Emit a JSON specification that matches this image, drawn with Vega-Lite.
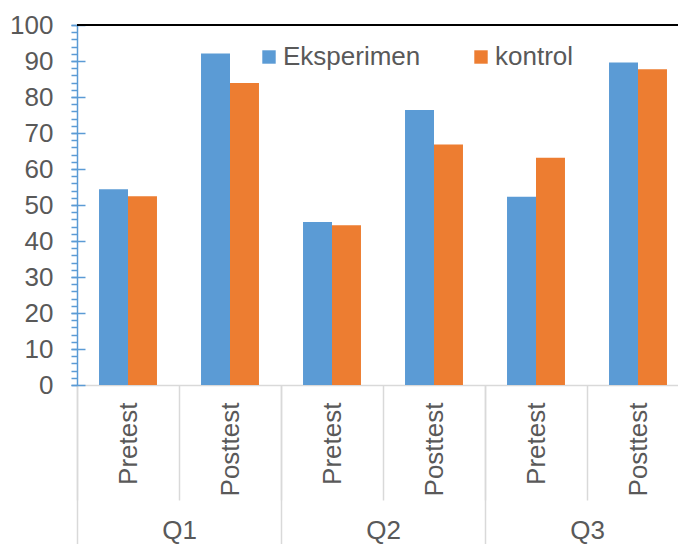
{
  "$schema": "https://vega.github.io/schema/vega-lite/v6.json",
  "autosize": "none",
  "padding": {"left": 77, "top": 25, "right": 0, "bottom": 159},
  "width": 601,
  "height": 360,
  "background": "white",
  "config": {
    "view": {"stroke": null},
    "font": "Liberation Sans"
  },
  "data": {
    "values": [
      {"key": "Q1|Pretest", "q": "Q1", "test": "Pretest", "group": "Eksperimen", "value": 54.4},
      {"key": "Q1|Pretest", "q": "Q1", "test": "Pretest", "group": "kontrol", "value": 52.4},
      {"key": "Q1|Posttest", "q": "Q1", "test": "Posttest", "group": "Eksperimen", "value": 92.1},
      {"key": "Q1|Posttest", "q": "Q1", "test": "Posttest", "group": "kontrol", "value": 83.9},
      {"key": "Q2|Pretest", "q": "Q2", "test": "Pretest", "group": "Eksperimen", "value": 45.3},
      {"key": "Q2|Pretest", "q": "Q2", "test": "Pretest", "group": "kontrol", "value": 44.4},
      {"key": "Q2|Posttest", "q": "Q2", "test": "Posttest", "group": "Eksperimen", "value": 76.4},
      {"key": "Q2|Posttest", "q": "Q2", "test": "Posttest", "group": "kontrol", "value": 66.8},
      {"key": "Q3|Pretest", "q": "Q3", "test": "Pretest", "group": "Eksperimen", "value": 52.3},
      {"key": "Q3|Pretest", "q": "Q3", "test": "Pretest", "group": "kontrol", "value": 63.1},
      {"key": "Q3|Posttest", "q": "Q3", "test": "Posttest", "group": "Eksperimen", "value": 89.6},
      {"key": "Q3|Posttest", "q": "Q3", "test": "Posttest", "group": "kontrol", "value": 87.7}
    ]
  },
  "resolve": {"scale": {"x": "independent"}, "axis": {"x": "independent", "y": "independent"}},
  "layer": [
    {
      "mark": {"type": "rule", "color": "black", "strokeWidth": 2},
      "encoding": {
        "y": {"datum": 100, "type": "quantitative", "scale": {"domain": [0, 100], "nice": false}, "axis": null}
      }
    },
    {
      "mark": {"type": "bar", "opacity": 0},
      "encoding": {
        "x": {"field": "q", "type": "nominal", "sort": null,
          "scale": {"range": [0, 612], "paddingInner": 0, "paddingOuter": 0},
          "axis": {"orient": "bottom", "title": null, "domain": false, "tickBand": "extent", "tickSize": 159, "tickColor": "#d9d9d9", "tickWidth": 1.5, "labelAngle": 0, "labelPadding": -27, "labelFont": "Liberation Sans", "labelFontSize": 26, "labelColor": "#595959"}
        },
        "y": {"field": "value", "type": "quantitative", "scale": {"domain": [0, 100], "nice": false}, "axis": null}
      }
    },
    {
      "mark": {"type": "rule", "opacity": 0},
      "encoding": {
        "y": {"field": "value", "type": "quantitative", "scale": {"domain": [0, 100], "nice": false},
          "axis": {"orient": "left", "title": null, "values": [0,2,4,6,8,10,12,14,16,18,20,22,24,26,28,30,32,34,36,38,40,42,44,46,48,50,52,54,56,58,60,62,64,66,68,70,72,74,76,78,80,82,84,86,88,90,92,94,96,98,100],
            "labels": false, "grid": false, "domain": true, "domainColor": "#5b9bd5", "domainWidth": 1.5, "tickColor": "#5b9bd5", "tickWidth": 1.5, "tickSize": 6}
        }
      }
    },
    {
      "mark": {"type": "rule", "opacity": 0},
      "encoding": {
        "y": {"field": "value", "type": "quantitative", "scale": {"domain": [0, 100], "nice": false},
          "axis": {"orient": "left", "title": null, "values": [0,10,20,30,40,50,60,70,80,90,100],
            "labels": false, "grid": false, "domain": false, "tickColor": "#5b9bd5", "tickWidth": 1.5, "tickSize": -8}
        }
      }
    },
    {
      "mark": {"type": "bar"},
      "encoding": {
        "x": {"field": "key", "type": "nominal", "sort": null,
          "scale": {"range": [0, 612], "paddingInner": 0, "paddingOuter": 0},
          "axis": {"orient": "bottom", "title": null, "domain": true, "domainColor": "#d9d9d9", "domainWidth": 1.5, "tickBand": "extent", "tickSize": 115, "tickColor": "#d9d9d9", "tickWidth": 1.5, "labelAngle": -90, "labelPadding": -98, "labelExpr": "split(datum.label, '|')[1]", "labelFont": "Liberation Sans", "labelFontSize": 26, "labelColor": "#595959"}
        },
        "xOffset": {"field": "group", "type": "nominal", "scale": {"paddingInner": 0, "paddingOuter": 0.76}},
        "y": {"field": "value", "type": "quantitative", "scale": {"domain": [0, 100], "nice": false},
          "axis": {"orient": "left", "title": null, "values": [0,10,20,30,40,50,60,70,80,90,100], "grid": false, "domain": false, "tickColor": "#5b9bd5", "tickWidth": 1.5, "tickSize": 6, "labelPadding": 18, "labelFont": "Liberation Sans", "labelFontSize": 26, "labelColor": "#595959"}
        },
        "color": {"field": "group", "type": "nominal",
          "scale": {"domain": ["Eksperimen", "kontrol"], "range": ["#5b9bd5", "#ed7d31"]},
          "legend": {"orient": "none", "legendX": 179, "legendY": 19, "direction": "horizontal", "title": null, "symbolType": "square", "symbolSize": 180, "symbolStrokeWidth": 0, "symbolOpacity": 1, "labelFont": "Liberation Sans", "labelFontSize": 26, "labelColor": "#595959", "labelOffset": 1, "columnPadding": 47, "labelLimit": 300}
        }
      }
    }
  ]
}
